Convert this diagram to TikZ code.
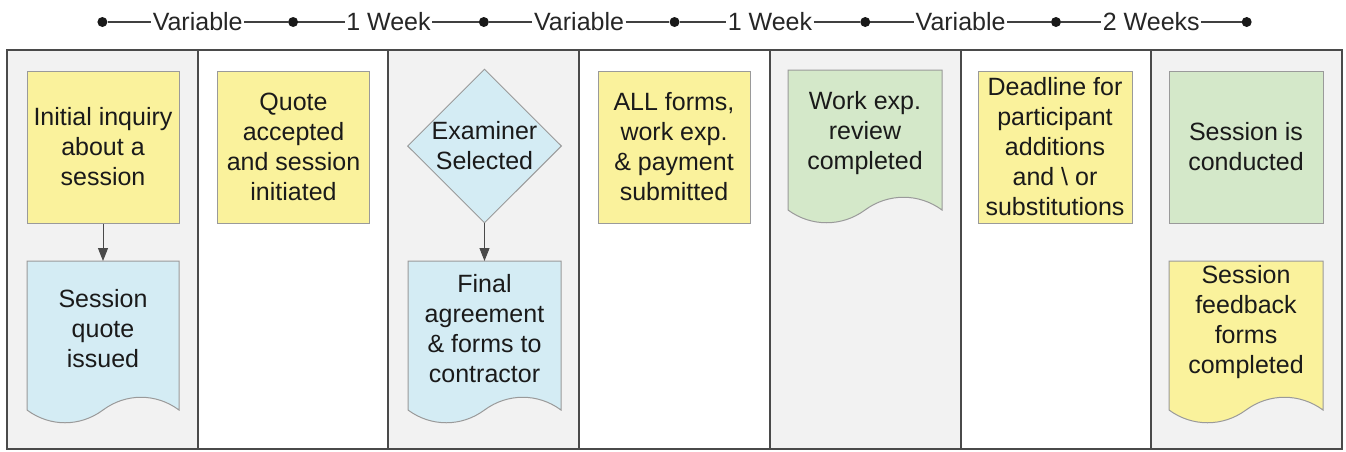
\documentclass[tikz,border=0pt]{standalone}
\usepackage{fontspec}
\setmainfont{Liberation Sans}
\usetikzlibrary{shapes.geometric,arrows.meta,calc}
\definecolor{yelfill}{HTML}{FAF29C}
\definecolor{bluefill}{HTML}{D4ECF4}
\definecolor{greenfill}{HTML}{D4E8C9}
\definecolor{lanegrey}{HTML}{F2F2F2}
\definecolor{shapeedge}{HTML}{9A9A9A}
\definecolor{frameedge}{HTML}{4A4A4A}
\definecolor{txt}{HTML}{1A1A1A}
\newcommand\wavedoc[5]{% #1 fill, #2 x1, #3 x2, #4 ytop, #5 ybase
  \draw[shapeline, fill=#1] (#2,#4) -- (#3,#4) -- (#3,#5)
    .. controls ({#3-0.15*(#3-#2)},{#5-17}) and ({#3-0.35*(#3-#2)},{#5-17}) .. ({(#2+#3)/2},#5)
    .. controls ({#2+0.35*(#3-#2)},{#5+17}) and ({#2+0.15*(#3-#2)},{#5+17}) .. (#2,#5) -- cycle;}
\begin{document}
\begin{tikzpicture}[x=1pt,y=-1pt,
  font=\fontsize{25}{30}\selectfont, text=txt,
  shapeline/.style={draw=shapeedge, line width=1pt},
  stepbox/.style={shapeline, rectangle, minimum width=152pt, minimum height=152pt, inner sep=0pt, align=center},
  doctext/.style={rectangle, minimum width=152pt, inner sep=0pt, align=center, anchor=north},
  decision/.style={shapeline, diamond, fill=bluefill, minimum width=154pt, minimum height=152pt, inner sep=0pt, align=center},
  flow/.style={draw=frameedge, line width=1pt, -{Triangle[length=13pt,width=10pt]}},
  tdot/.style={circle, fill=black!90, minimum size=10pt, inner sep=0pt},
  tlabel/.style={fill=white, inner sep=1.5pt, text=black!85},
  tline/.style={draw=black!75, line width=1.3pt}]
\useasboundingbox (0,0) rectangle (1346,451);
% lanes
\foreach \k in {0,2,4,6} {
  \fill[lanegrey] ({7+190.714*\k},50) rectangle ({7+190.714*(\k+1)},449);
}
\draw[draw=frameedge, line width=2pt] (7,50) rectangle (1342,449);
\foreach \k in {1,...,6} {
  \draw[draw=frameedge, line width=2pt] ({7+190.714*\k},50) -- ({7+190.714*\k},449);
}
% timeline
\foreach \k in {0,...,6} {
  \node[tdot] (t\k) at ({102.4+190.714*\k},22) {};
}
\node[tlabel] (l1) at (197.7,22) {Variable};
\node[tlabel] (l2) at (388.4,22) {1 Week};
\node[tlabel] (l3) at (579.1,22) {Variable};
\node[tlabel] (l4) at (769.9,22) {1 Week};
\node[tlabel] (l5) at (960.6,22) {Variable};
\node[tlabel] (l6) at (1151.3,22) {2 Weeks};
\draw[tline] (t0) -- (l1) -- (t1) -- (l2) -- (t2) -- (l3) -- (t3) -- (l4) -- (t4) -- (l5) -- (t5) -- (l6) -- (t6);
% column 1
\node[stepbox, fill=yelfill] (inq) at (103,147) {Initial inquiry\\about a\\session};
\wavedoc{bluefill}{27}{179}{261}{410}
\node[doctext, minimum height=134pt] (quote) at (103,261) {Session\\quote\\issued};
\draw[flow] (inq) -- (quote);
% column 2
\node[stepbox, fill=yelfill] (acc) at (293.5,147) {Quote\\accepted\\and session\\initiated};
% column 3
\node[decision] (exam) at (484.5,146) {Examiner\\Selected};
\wavedoc{bluefill}{408}{561}{261}{410}
\node[doctext, minimum height=134pt] (final) at (484.5,261) {Final\\agreement\\\& forms to\\contractor};
\draw[flow] (exam) -- (final);
% column 4
\node[stepbox, fill=yelfill] (forms) at (674,147) {ALL forms,\\work exp.\\\& payment\\submitted};
% column 5
\wavedoc{greenfill}{788}{942}{70}{210}
\node[doctext, minimum height=126pt] (review) at (865,70) {Work exp.\\review\\completed};
% column 6
\node[stepbox, fill=yelfill, minimum width=154pt] (dead) at (1055,147) {Deadline for\\participant\\additions\\and \textbackslash\ or\\substitutions};
% column 7
\node[stepbox, fill=greenfill, minimum width=154pt] (cond) at (1246,147) {Session is\\conducted};
\wavedoc{yelfill}{1169}{1323}{261}{410}
\node[doctext, minimum height=122pt] (feed) at (1246,261) {Session\\feedback\\forms\\completed};
\end{tikzpicture}
\end{document}
